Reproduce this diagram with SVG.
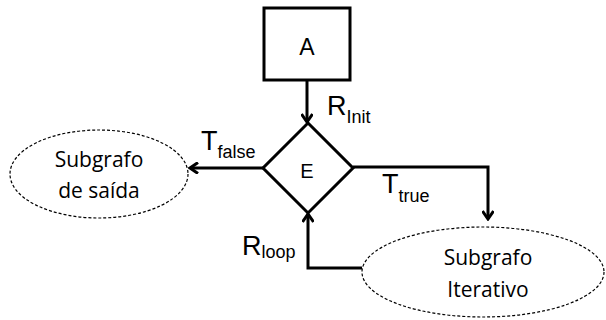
<svg xmlns="http://www.w3.org/2000/svg" width="606" height="320" viewBox="0 0 606 320">
<style>
.box{fill:#fff;stroke:#000;stroke-width:3}
.ell{fill:#fff;stroke:#000;stroke-width:1.2;stroke-dasharray:3 2}
.edge{fill:none;stroke:#000;stroke-width:3}
.lbl{font-family:"Liberation Sans",Arial,sans-serif;fill:#000}
.cal{font-family:"Open Sans","Noto Sans",sans-serif;font-size:21px;fill:#000;text-anchor:middle}
</style>
<defs>
<marker id="arr" markerWidth="12" markerHeight="12" refX="10" refY="6" orient="auto" markerUnits="userSpaceOnUse">
<path d="M2,0.5 L10,6 L2,11.5" fill="none" stroke="#000" stroke-width="3"/>
</marker>
</defs>
<g id="connectors">
<path class="edge" d="M307,80 L307,122" marker-end="url(#arr)"/>
<path class="edge" d="M263,168 L190,168" marker-end="url(#arr)"/>
<path class="edge" d="M353,167 L488,167 L488,219" marker-end="url(#arr)"/>
<path class="edge" d="M362,268 L308,268 L308,214" marker-end="url(#arr)"/>
</g>
<g id="A">
<rect class="box" x="264" y="8" width="86" height="72"/>
<text class="lbl" x="307" y="55" font-size="23" text-anchor="middle">A</text>
</g>
<g id="E">
<polygon class="box" points="308,123 353,168 308,213 263,168"/>
<text class="lbl" x="307" y="178" font-size="20" text-anchor="middle">E</text>
</g>
<g id="saida">
<ellipse class="ell" cx="99" cy="174" rx="89" ry="44"/>
<text class="cal" x="99" y="167">Subgrafo</text>
<text class="cal" x="99" y="198">de saída</text>
</g>
<g id="iterativo">
<ellipse class="ell" cx="483" cy="272" rx="121" ry="45"/>
<text class="cal" x="488" y="265">Subgrafo</text>
<text class="cal" x="488" y="297">Iterativo</text>
</g>
<g id="labels">
<text class="lbl" x="327" y="115" font-size="27">R<tspan font-size="18" dy="8">Init</tspan></text>
<text class="lbl" x="201" y="150" font-size="27">T<tspan font-size="18" dy="8">false</tspan></text>
<text class="lbl" x="382" y="193" font-size="27">T<tspan font-size="18" dy="9">true</tspan></text>
<text class="lbl" x="242" y="255" font-size="27">R<tspan font-size="18" dy="3">loop</tspan></text>
</g>
</svg>
